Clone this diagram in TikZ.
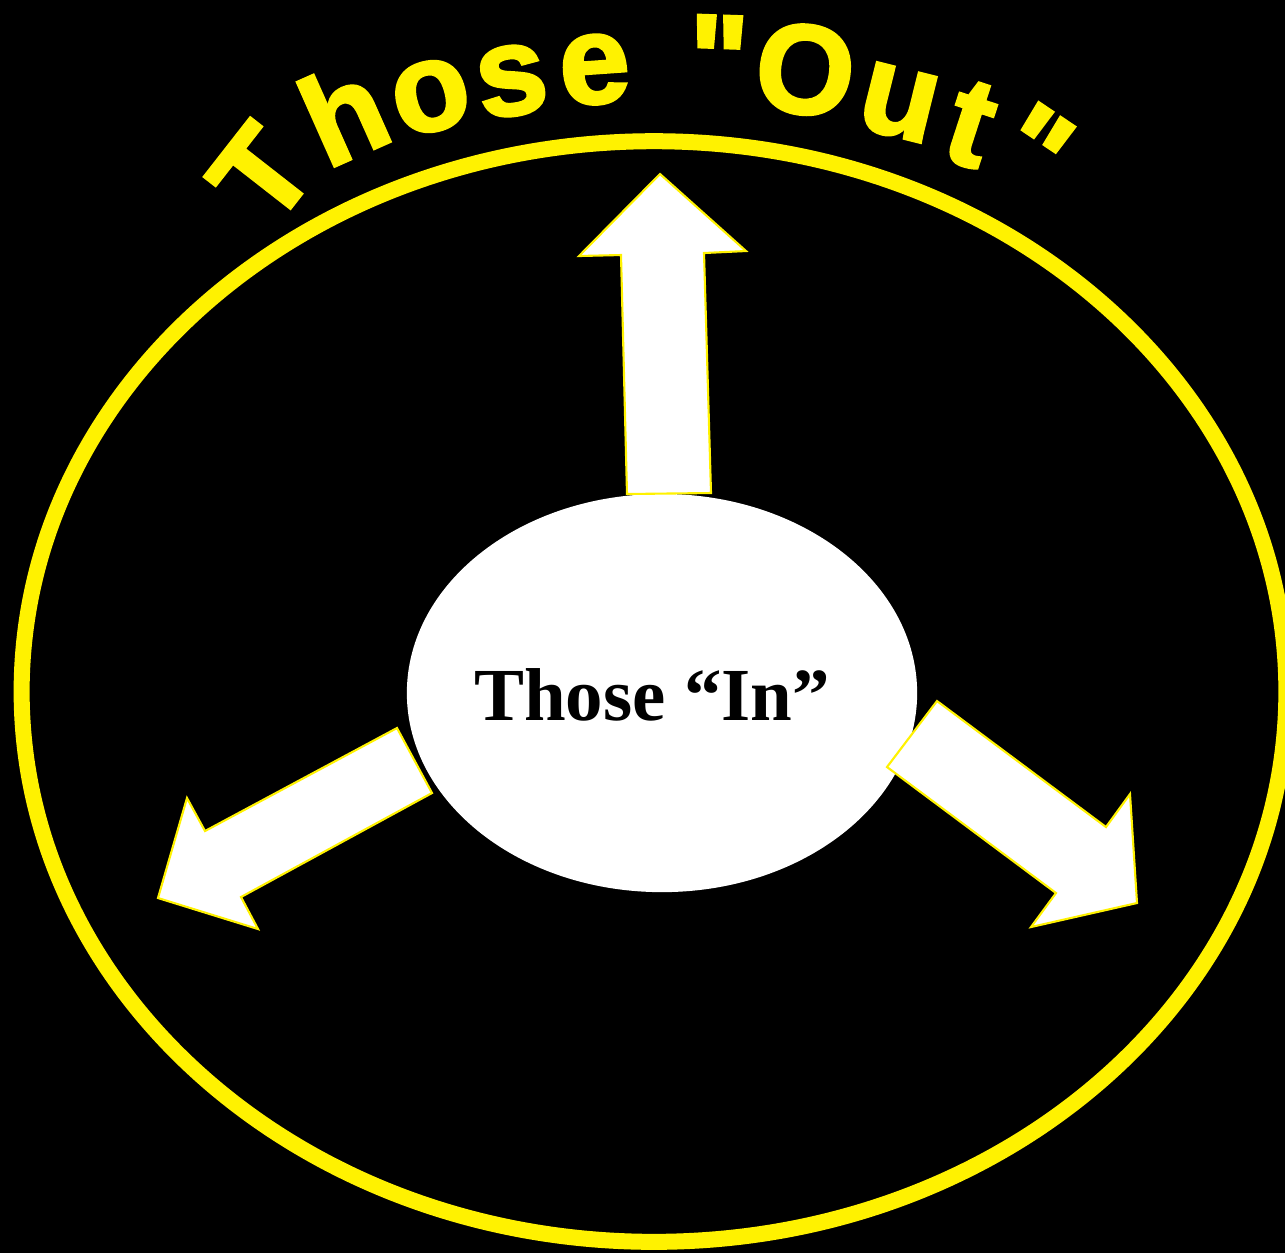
\documentclass[tikz,border=0pt]{standalone}
\usepackage{fontspec}
\setmainfont{Liberation Serif}
\newfontfamily\outfont[UprightFont={* Bold},FakeBold=2.5]{Liberation Sans}
\usetikzlibrary{shapes.geometric}
\tikzset{blockarr/.style={draw=yellow,fill=white,line width=0.6pt,line join=miter}  }
\tikzset{outletter/.style={text=yellow,font=\outfont\fontsize{36}{40}\selectfont,inner sep=0pt,anchor=base}  }

\begin{document}
\begin{tikzpicture}[x=0.01cm,y=-0.01cm]
  % units are pixels of the original, y going down
\useasboundingbox (0,0) rectangle (1285,1253);
\fill[black] (0,0) rectangle (1285,1253);
\begin{scope}
\clip (0,0) rectangle (1285,1253);
    \draw[yellow,line width=0.16cm] (654,691.5) ellipse [x radius=6.32cm,y radius=5.5cm];
\end{scope}

    \node[ellipse,fill=white,minimum width=5.1cm,minimum height=3.98cm,inner sep=0pt] (in) at (662,693) {};
    \node[anchor=base,inner sep=0pt,font=\bfseries\fontsize{21.3}{24}\selectfont] (intext) at (652,720) {Those “In”};

    % the three arrows
    \draw[blockarr] (627,494) -- (621,255) -- (579,256) -- (660,174) -- (746,251) -- (704,253) -- (711,493) -- cycle;
    \draw[blockarr] (432,793) -- (397,728) -- (205,831) -- (187,798) -- (158,898) -- (258,929) -- (241,897) -- cycle;
    \draw[blockarr] (937,701) -- (887,767) -- (1056,893) -- (1031,927) -- (1137,903) -- (1130,794) -- (1106,827) -- cycle;

    % letters on the arch
    \foreach \ch/\px/\py/\rot [count=\i] in {T/296/201/52, h/362/154/24, o/439/129/14, s/517/114/9, e/597/103/4,
      {"}/717/103/-2, O/800/113/-7, u/891/135/-14, t/958/163/-18, {"}/1008/187/-34}
    {
      \node[outletter,rotate=\rot] (out\i) at (\px,\py) {\ch};
    }
\end{tikzpicture}
\end{document}
